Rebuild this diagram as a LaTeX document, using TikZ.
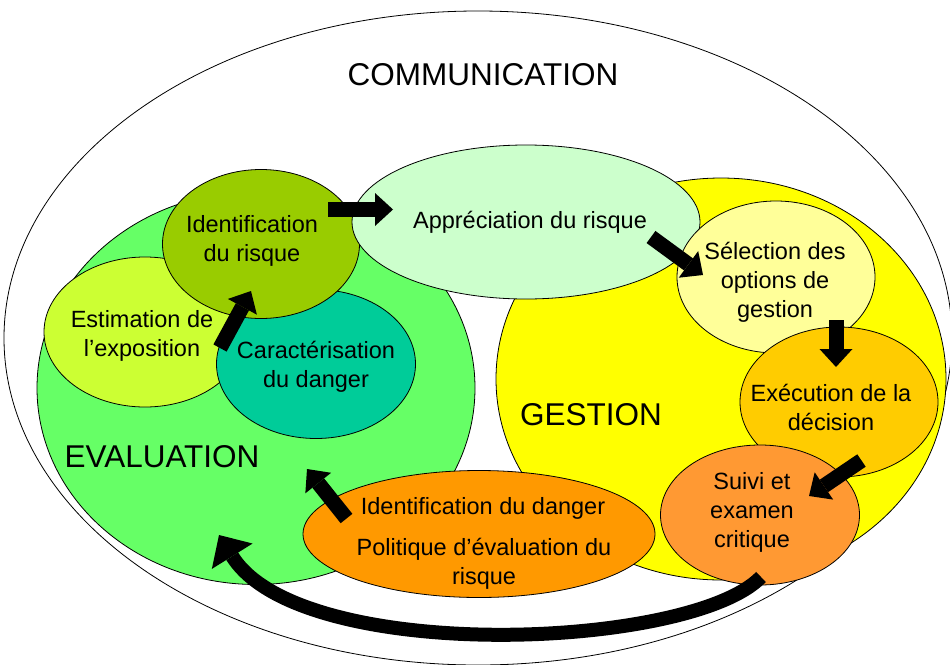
\documentclass[tikz,border=0pt]{standalone}
\usepackage{fontspec}
\setmainfont{Liberation Sans}
\usetikzlibrary{shapes.geometric,arrows.meta}
\definecolor{cEval}{HTML}{66FF66}
\definecolor{cGest}{HTML}{FFFF00}
\definecolor{cAppr}{HTML}{CCFFCC}
\definecolor{cIdR}{HTML}{99CC00}
\definecolor{cEst}{HTML}{CCFF33}
\definecolor{cCar}{HTML}{00CC99}
\definecolor{cSel}{HTML}{FFFF99}
\definecolor{cExe}{HTML}{FFCC00}
\definecolor{cSui}{HTML}{FF9933}
\definecolor{cPol}{HTML}{FF9900}
\begin{document}
\begin{tikzpicture}[x=1pt,y=-1pt,
  ell/.style={ellipse,draw=black,line width=0.8pt,inner sep=0pt},
  txt/.style={align=center,font=\fontsize{23.5}{29}\selectfont,inner sep=0pt},
  bigtxt/.style={font=\fontsize{31.5}{36}\selectfont,inner sep=0pt},
  blockarrow/.style={line width=15pt,-{Triangle[length=18pt,width=33pt,line width=0pt]}},
  curvearrow/.style={line width=14pt,-{Triangle[length=25pt,width=48pt,line width=0pt]}}
]
\useasboundingbox (0,0) rectangle (950,664);
% outer
\node[ell,fill=white,minimum width=948pt,minimum height=654pt] (comm) at (478,338) {};
% big zones
\node[ell,fill=cEval,minimum width=438pt,minimum height=393pt] (evalz) at (256,388) {};
\node[ell,fill=cGest,minimum width=450pt,minimum height=402pt] (gestz) at (721,379) {};
% evaluation inner
\node[ell,fill=cEst,minimum width=202pt,minimum height=150pt] (est) at (145,332) {};
\node[ell,fill=cCar,minimum width=199pt,minimum height=149pt] (car) at (316,364) {};
\node[ell,fill=cIdR,minimum width=197pt,minimum height=149pt] (idr) at (261,244) {};
% appreciation
\node[ell,fill=cAppr,minimum width=348pt,minimum height=154pt] (appr) at (526,222) {};
% gestion inner
\node[ell,fill=cSel,minimum width=198pt,minimum height=152pt] (sel) at (776,277) {};
\node[ell,fill=cExe,minimum width=198pt,minimum height=150pt] (exe) at (839,402) {};
\node[ell,fill=cSui,minimum width=199pt,minimum height=140pt] (sui) at (760,515) {};
% bottom
\node[ell,fill=cPol,minimum width=352pt,minimum height=127pt] (pol) at (479,534) {};

% texts
\node[bigtxt] (tcomm) at (483,75) {COMMUNICATION};
\node[bigtxt] (teval) at (162,457) {EVALUATION};
\node[bigtxt] (tgest) at (591,415) {GESTION};
\node[txt] (tidr) at (252,241) {Identification\\du risque};
\node[txt] (test) at (142,336) {Estimation de\\l’exposition};
\node[txt] (tcar) at (316,367) {Caractérisation\\du danger};
\node[txt] (tappr) at (530,222) {Appréciation du risque};
\node[txt] (tsel) at (775,282) {Sélection des\\options de\\gestion};
\node[txt] (texe) at (831,407) {Exécution de la\\décision};
\node[txt] (tsui) at (752,512) {Suivi et\\examen\\critique};
\node[txt] (tidd) at (483,508) {Identification du danger};
\node[txt] (tpol) at (484,564) {Politique d’évaluation du\\risque};

% arrow end points
\coordinate (a1s) at (328,209.5);  \coordinate (a1e) at (393,209.5);
\coordinate (a2s) at (220,348);    \coordinate (a2e) at (251,291);
\coordinate (a3s) at (651,237);    \coordinate (a3e) at (703,275);
\coordinate (a4s) at (836,320);    \coordinate (a4e) at (836,367);
\coordinate (a5s) at (861.5,460.5);\coordinate (a5e) at (809,496);
\coordinate (a6s) at (346.5,518.5);\coordinate (a6e) at (307,469);
\coordinate (cs) at (761,577);     \coordinate (ce) at (219,535);

\draw[blockarrow] (a1s) -- (a1e);
\draw[blockarrow] (a2s) -- (a2e);
\draw[blockarrow] (a3s) -- (a3e);
\draw[blockarrow] (a4s) -- (a4e);
\draw[blockarrow] (a5s) -- (a5e);
\draw[blockarrow] (a6s) -- (a6e);
\draw[curvearrow] (cs) .. controls (690,650) and (300,665) .. (ce);
\end{tikzpicture}
\end{document}
